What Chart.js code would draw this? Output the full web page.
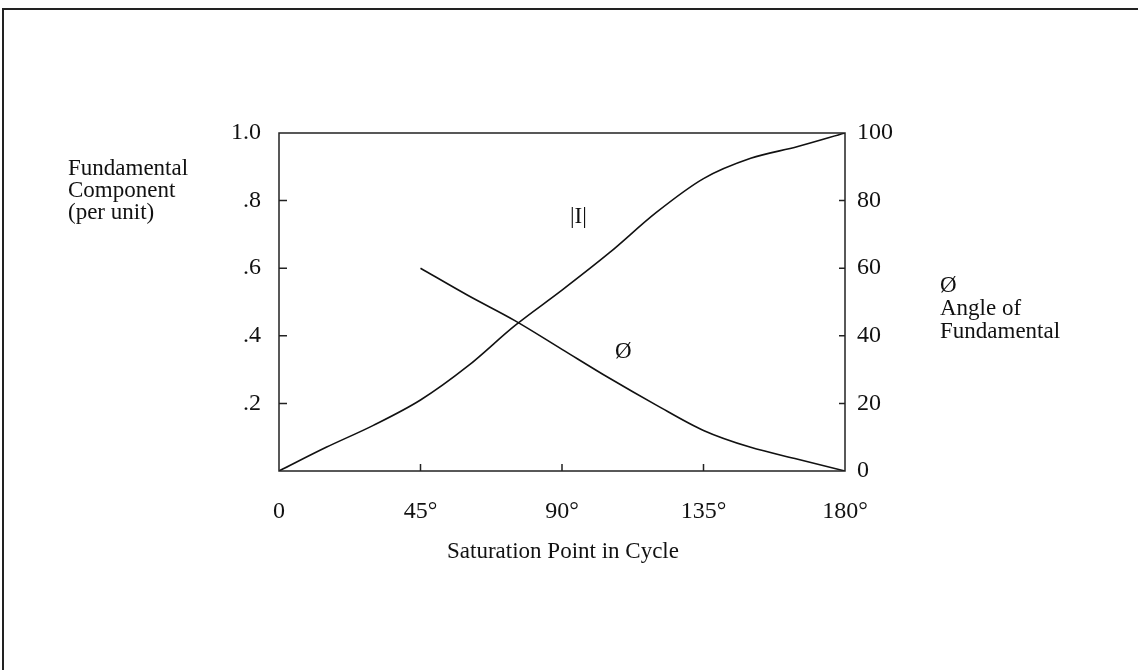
<!DOCTYPE html>
<html>
<head>
<meta charset="utf-8">
<script src="https://cdn.jsdelivr.net/npm/chart.js@4"></script>
<style>
  html, body { margin: 0; padding: 0; background: #fff; }
  #wrap { position: relative; width: 1138px; height: 670px; }
</style>
</head>
<body>
<div id="wrap"><canvas id="satChart" width="1138" height="670"></canvas></div>
<script>
// saturation point (degrees) and the two curves
const angles = [0, 15, 30, 45, 60, 75, 90, 105, 120, 135, 150, 165, 180];
const currentMag = [0, 0.07, 0.135, 0.21, 0.31, 0.43, 0.535, 0.645, 0.765, 0.865, 0.925, 0.96, 1.0];
const phiAngle = [null, null, null, 60, 52, 44.5, 36, 27.5, 19.5, 12, 7, 3.5, 0];

const xTickLabels = ['0', '45°', '90°', '135°', '180°'];
const leftTickLabels = ['', '.2', '.4', '.6', '.8', '1.0'];
const rightTickLabels = ['0', '20', '40', '60', '80', '100'];

const serif = "'Liberation Serif', 'DejaVu Serif', serif";
const ink = '#111';

function pts(ys) {
    return angles.map((a, i) => ({ x: a, y: ys[i] }));
}

// frame, inward ticks and the free text
const decor = {
    id: 'decor',
    afterDraw(chart) {
        const ctx = chart.ctx;
        const area = chart.chartArea;
        const sx = chart.scales.x, yl = chart.scales.y, yr = chart.scales.y2;
        ctx.save();
        ctx.strokeStyle = '#222';
        ctx.lineWidth = 2;
        ctx.beginPath();
        ctx.moveTo(3, 670); ctx.lineTo(3, 9); ctx.lineTo(1138, 9);
        ctx.stroke();

        ctx.lineWidth = 1.5;
        ctx.strokeRect(area.left, area.top, area.right - area.left, area.bottom - area.top);

        ctx.beginPath();
        [0.2, 0.4, 0.6, 0.8].forEach(v => {
            const y = yl.getPixelForValue(v);
            ctx.moveTo(area.left, y); ctx.lineTo(area.left + 8, y);
        });
        [20, 40, 60, 80].forEach(v => {
            const y = yr.getPixelForValue(v);
            ctx.moveTo(area.right, y); ctx.lineTo(area.right - 6, y);
        });
        [45, 90, 135].forEach(v => {
            const x = sx.getPixelForValue(v);
            ctx.moveTo(x, area.bottom); ctx.lineTo(x, area.bottom - 7);
        });
        ctx.stroke();

        ctx.fillStyle = ink;
        ctx.font = '23px ' + serif;
        ctx.textBaseline = 'alphabetic';
        ctx.textAlign = 'left';
        ['Fundamental', 'Component', '(per unit)'].forEach((t, i) => ctx.fillText(t, 68, 175 + i * 22));
        ['Ø', 'Angle of', 'Fundamental'].forEach((t, i) => ctx.fillText(t, 940, 292 + i * 23));
        ctx.fillText('|I|', 570, 223);
        ctx.fillText('Ø', 615, 358);
        ctx.textAlign = 'center';
        ctx.fillText('Saturation Point in Cycle', 563, 558);
        ctx.restore();
    }
};

new Chart(document.getElementById('satChart'), {
    type: 'line',
    data: {
        datasets: [{
            label: '|I|',
            data: pts(currentMag),
            yAxisID: 'y',
            borderColor: ink,
            borderWidth: 1.6,
            pointRadius: 0,
            cubicInterpolationMode: 'monotone'
        }, {
            label: 'Ø',
            data: pts(phiAngle),
            yAxisID: 'y2',
            borderColor: ink,
            borderWidth: 1.6,
            pointRadius: 0,
            cubicInterpolationMode: 'monotone'
        }]
    },
    options: {
        responsive: false,
        animation: false,
        layout: { padding: { top: 133, left: 0, right: 0, bottom: 0 } },
        plugins: { legend: { display: false }, tooltip: { enabled: false } },
        scales: {
            x: {
                type: 'linear', min: 0, max: 180,
                grid: { display: false },
                border: { display: false },
                ticks: {
                    stepSize: 45, padding: 18, color: ink,
                    font: { family: serif, size: 24 },
                    maxRotation: 0,
                    callback: (v, i) => xTickLabels[i]
                },
                afterFit: s => { s.height = 670 - 471; }
            },
            y: {
                position: 'left', min: 0, max: 1,
                grid: { display: false },
                border: { display: false },
                ticks: {
                    stepSize: 0.2, padding: 10, color: ink,
                    font: { family: serif, size: 24 },
                    callback: (v, i) => leftTickLabels[i]
                },
                afterFit: s => { s.width = 279; }
            },
            y2: {
                position: 'right', min: 0, max: 100,
                grid: { display: false },
                border: { display: false },
                ticks: {
                    stepSize: 20, padding: 4, color: ink,
                    font: { family: serif, size: 24 },
                    callback: (v, i) => rightTickLabels[i]
                },
                afterFit: s => { s.width = 1138 - 845; }
            }
        }
    },
    plugins: [decor]
});
</script>
</body>
</html>
